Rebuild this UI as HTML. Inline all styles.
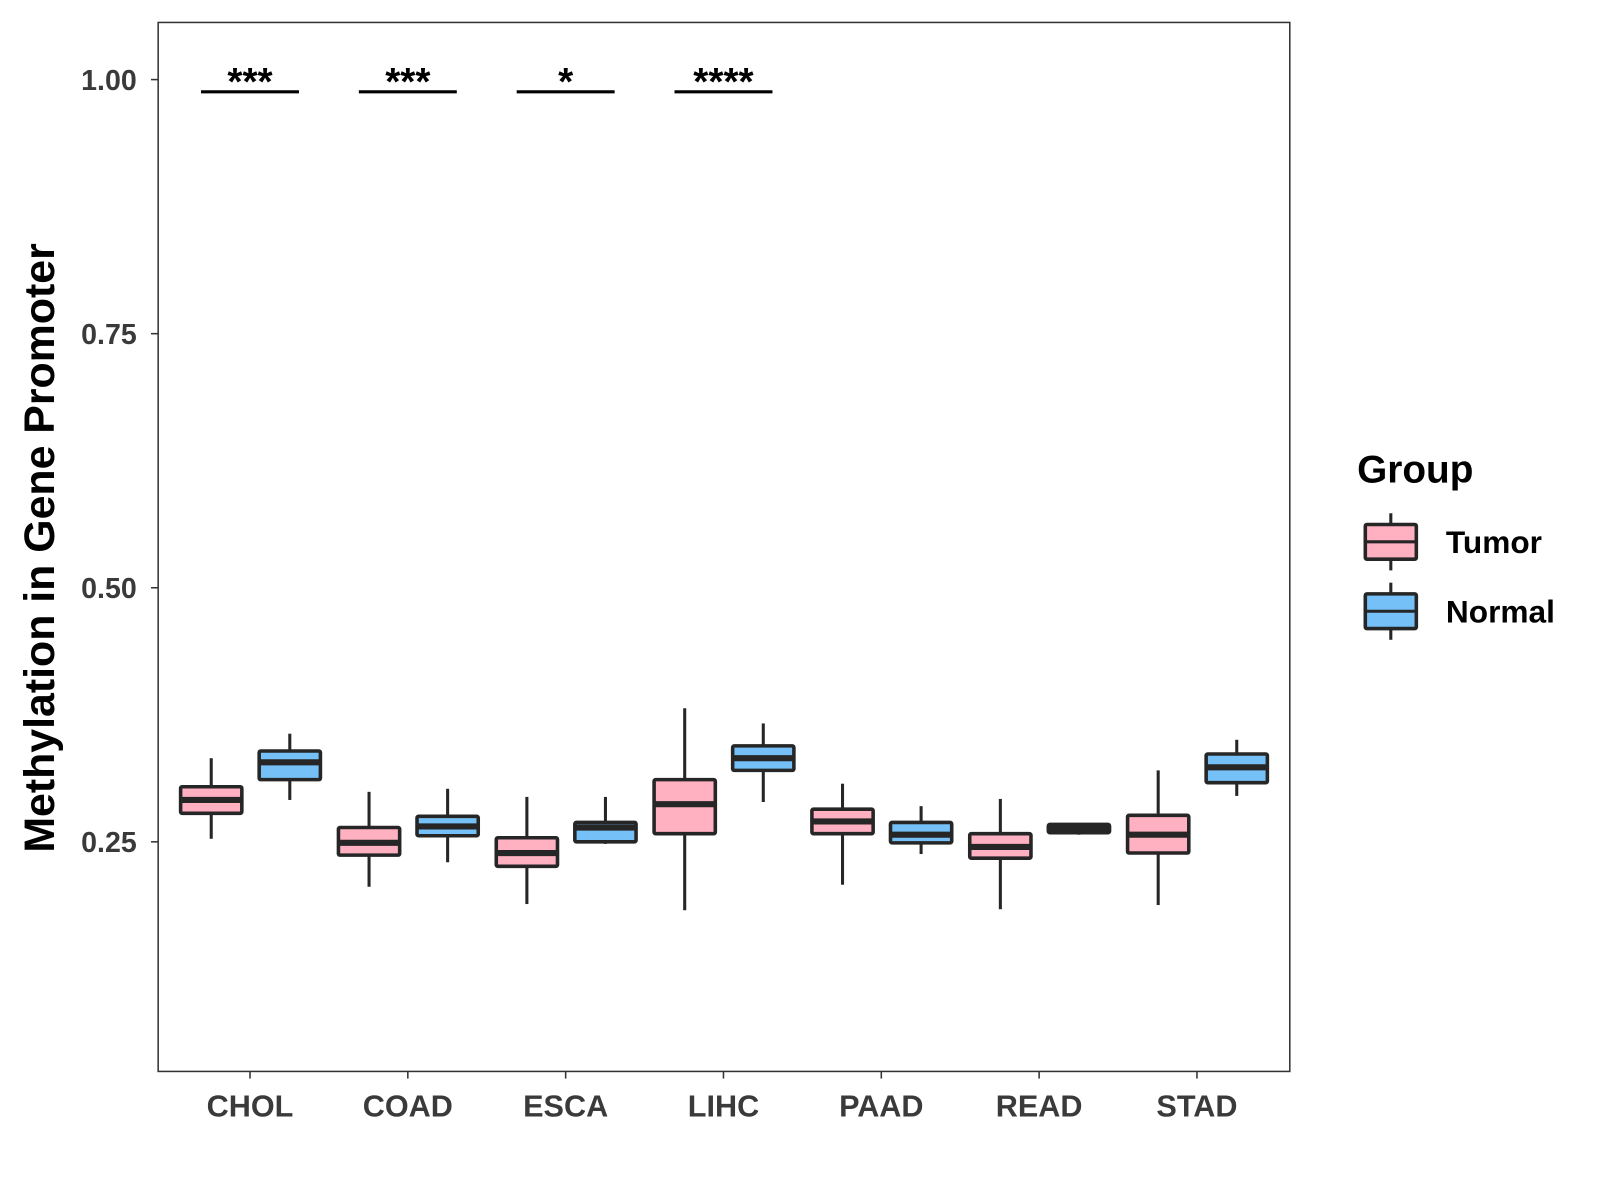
<!DOCTYPE html>
<html><head><meta charset="utf-8"><style>
html,body{margin:0;padding:0;background:#fff;}
svg{display:block;font-family:"Liberation Sans",Arial,sans-serif;}
</style></head><body>
<svg id="chart" width="1600" height="1200" viewBox="0 0 1568 1176"></svg>
<script>
const categories=["CHOL","COAD","ESCA","LIHC","PAAD","READ","STAD"];
const groups=["Tumor","Normal"];
// [min, q1, median, q3, max] per category
const tumorStats=[
 [0.2530,0.2781,0.2912,0.3042,0.3323],
 [0.2058,0.2369,0.2490,0.2641,0.2992],
 [0.1888,0.2259,0.2390,0.2540,0.2942],
 [0.1827,0.2580,0.2871,0.3112,0.3815],
 [0.2078,0.2580,0.2701,0.2821,0.3072],
 [0.1837,0.2339,0.2450,0.2580,0.2922],
 [0.1878,0.2390,0.2570,0.2761,0.3203]];
const normalStats=[
 [0.2912,0.3112,0.3283,0.3394,0.3564],
 [0.2299,0.2560,0.2651,0.2751,0.3022],
 [0.2480,0.2500,0.2641,0.2691,0.2942],
 [0.2892,0.3203,0.3323,0.3444,0.3665],
 [0.2380,0.2490,0.2570,0.2691,0.2851],
 [0.2570,0.2590,0.2631,0.2671,0.2681],
 [0.2952,0.3082,0.3233,0.3364,0.3504]];
const yTicks=[0.25,0.50,0.75,1.00];
const yTickLabels=["0.25","0.50","0.75","1.00"];
const sigLabels=["***","***","*","****","","",""];
const sigLevel=0.988;

const NS="http://www.w3.org/2000/svg";
const svg=document.getElementById('chart');
const P={l:155,r:1264,t:22,b:1050};
const y=v=>78+(1-v)*996;
const x=i=>245+i*154.67;
const fills=["#FFB0C1","#74C0F7"];
const ink="#262626";
function mk(tag,attrs,parent){const e=document.createElementNS(NS,tag);for(const k in attrs)e.setAttribute(k,attrs[k]);(parent||svg).appendChild(e);return e;}

const panel=mk('rect',{x:P.l,y:P.t,width:P.r-P.l,height:P.b-P.t,fill:'none',stroke:'#333','stroke-width':1.5});



yTicks.forEach((t,i)=>{
 const g=mk('g',{});
 
 
 mk('line',{x1:P.l-7,x2:P.l,y1:y(t),y2:y(t),stroke:'#333','stroke-width':1.5},g);
 const tx=mk('text',{x:P.l-21,y:y(t)+10,'text-anchor':'end','font-size':28,'font-weight':'bold',fill:'#3a3a3a'},g);
 tx.textContent=yTickLabels[i];
});
categories.forEach((c,i)=>{
 const g=mk('g',{});
 
 
 mk('line',{x1:x(i),x2:x(i),y1:P.b,y2:P.b+7,stroke:'#333','stroke-width':1.5},g);
 const tx=mk('text',{x:x(i),y:1094,'text-anchor':'middle','font-size':30,'font-weight':'bold',fill:'#3a3a3a'},g);
 tx.textContent=c;
});
const yt=mk('text',{x:0,y:0,transform:'translate(53,537) rotate(-90)','text-anchor':'middle','font-size':42,'font-weight':'bold',fill:'#000'});


yt.textContent='Methylation in Gene Promoter';

function box(cx,s,fill,parent){
 const w=60;
 mk('line',{x1:cx,x2:cx,y1:y(s[4]),y2:y(s[3]),stroke:ink,'stroke-width':3},parent);
 mk('line',{x1:cx,x2:cx,y1:y(s[1]),y2:y(s[0]),stroke:ink,'stroke-width':3},parent);
 mk('rect',{x:cx-w/2,y:y(s[3]),width:w,height:Math.max(1,y(s[1])-y(s[3])),fill:fill,stroke:ink,'stroke-width':3.5,rx:1.5},parent);
 mk('line',{x1:cx-w/2,x2:cx+w/2,y1:y(s[2]),y2:y(s[2]),stroke:ink,'stroke-width':6},parent);
}
categories.forEach((c,i)=>{
 [tumorStats,normalStats].forEach((st,gi)=>{
  const g=mk('g',{});
  
  
  box(x(i)+(gi===0?-38:39),st[i],fills[gi],g);
 });
 if(sigLabels[i]){
  const g=mk('g',{});
  
  
  mk('line',{x1:x(i)-48,x2:x(i)+48,y1:y(sigLevel),y2:y(sigLevel),stroke:'#000','stroke-width':3},g);
  const t=mk('text',{x:x(i),y:y(sigLevel)+3,'text-anchor':'middle','font-size':38,'font-weight':'bold',fill:'#000'},g);
  t.textContent=sigLabels[i];
 }
});
const lg=mk('g',{});


const lt=mk('text',{x:1330,y:473,'font-size':38,'font-weight':'bold',fill:'#000'},lg);
lt.textContent='Group';
groups.forEach((gname,gi)=>{
 const e=mk('g',{},lg);
 
 
 const top=514+gi*68;
 mk('line',{x1:1363,x2:1363,y1:top-11,y2:top+45,stroke:ink,'stroke-width':3},e);
 mk('rect',{x:1338,y:top,width:50,height:34,fill:fills[gi],stroke:ink,'stroke-width':3.5,rx:1.5},e);
 mk('line',{x1:1338,x2:1388,y1:top+17,y2:top+17,stroke:ink,'stroke-width':3},e);
 const t=mk('text',{x:1417,y:top+28,'font-size':31,'font-weight':'bold',fill:'#000'},e);
 t.textContent=gname;
});
</script>
</body></html>
